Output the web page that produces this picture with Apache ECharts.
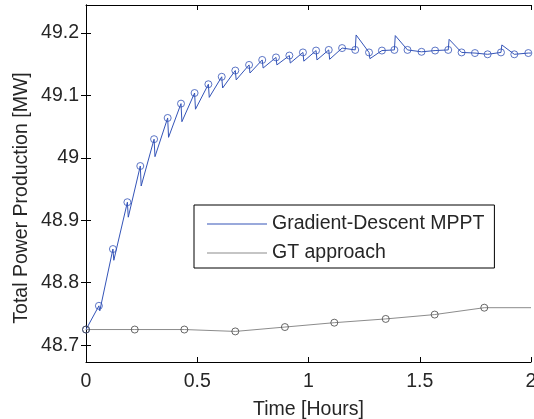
<!DOCTYPE html>
<html><head><meta charset="utf-8">
<script src="https://cdn.jsdelivr.net/npm/echarts@6/dist/echarts.min.js"></script>
<style>html,body{margin:0;padding:0;background:#fff}#c{width:534px;height:419px}</style>
</head><body><div id="c"></div>
<script>
// ---- data ----
const seriesNames = ['Gradient-Descent MPPT', 'GT approach'];
const xTicks = [0, 0.5, 1, 1.5, 2];
const yTicks = [48.7, 48.8, 48.9, 49, 49.1, 49.2];
const xTitle = 'Time [Hours]';
const yTitle = 'Total Power Production [MW]';

// Gradient-Descent MPPT: marked samples and value just after each marked sample
const blueTime = [0, 0.058, 0.121, 0.186, 0.244, 0.306, 0.367, 0.427, 0.488, 0.550, 0.610, 0.671, 0.733, 0.792, 0.854, 0.914, 0.975, 1.034, 1.091, 1.151, 1.210, 1.272, 1.330, 1.386, 1.445, 1.508, 1.569, 1.628, 1.688, 1.748, 1.805, 1.865, 1.925, 1.988];
const blueAtMark = [48.725, 48.763, 48.854, 48.929, 48.987, 49.030, 49.064, 49.087, 49.104, 49.118, 49.130, 49.140, 49.149, 49.157, 49.161, 49.164, 49.169, 49.172, 49.173, 49.176, 49.173, 49.169, 49.172, 49.173, 49.173, 49.170, 49.172, 49.173, 49.169, 49.168, 49.166, 49.169, 49.166, 49.168];
const blueAfterMark = [48.725, 48.755, 48.836, 48.905, 48.955, 49.002, 49.033, 49.058, 49.078, 49.097, 49.112, 49.125, 49.136, 49.144, 49.149, 49.152, 49.155, 49.157, 49.158, 49.176, 49.197, 49.159, 49.172, 49.196, 49.173, 49.170, 49.172, 49.190, 49.169, 49.168, 49.166, 49.181, 49.166, 49.168];
const blueJumpDt = 0.004;
const blueEnd = [2, 49.168];

// GT approach
const grayTime = [0, 0.219, 0.442, 0.671, 0.894, 1.116, 1.347, 1.567, 1.790];
const grayVal = [48.725, 48.725, 48.725, 48.722, 48.729, 48.736, 48.742, 48.749, 48.760];
const grayEnd = [2, 48.760];

// ---- build ----
const blueLine = [];
blueTime.forEach((t, i) => {
  blueLine.push([t, blueAtMark[i]]);
  if (blueAfterMark[i] !== blueAtMark[i]) blueLine.push([t + blueJumpDt, blueAfterMark[i]]);
});
blueLine.push(blueEnd);
const blueMarks = blueTime.map((t, i) => [t, blueAtMark[i]]);
const grayMarks = grayTime.map((t, i) => [t, grayVal[i]]);
const grayLine = grayMarks.concat([grayEnd]);

const FONT = 'Liberation Sans, Arial, sans-serif';
const FS = 19.5;
const TXT = '#262626';
const BLUE = '#3454b8';
const GRAY = '#8c8c8c';

const chart = echarts.init(document.getElementById('c'), null, {renderer: 'canvas'});
const axisCommon = {
  axisLine: {show: true, lineStyle: {color: '#000', width: 1}},
  splitLine: {show: false}
};
chart.setOption({
  animation: false,
  backgroundColor: '#fff',
  textStyle: {fontFamily: FONT},
  grid: {left: 86, right: 3, top: 5, bottom: 57, containLabel: false, outerBoundsMode: 'none'},
  xAxis: [
    Object.assign({
      type: 'value', min: xTicks[0], max: xTicks[xTicks.length - 1], interval: 0.5, position: 'bottom',
      axisTick: {show: true, inside: true, length: 5, lineStyle: {color: '#000'}},
      axisLabel: {show: true, margin: 10, fontSize: FS, color: TXT, fontFamily: FONT, formatter: v => String(+v.toFixed(2))},
      name: xTitle, nameLocation: 'middle', nameGap: 38,
      nameTextStyle: {fontSize: FS, color: TXT, fontFamily: FONT}
    }, axisCommon),
    Object.assign({
      type: 'value', min: xTicks[0], max: xTicks[xTicks.length - 1], interval: 0.5, position: 'top',
      axisTick: {show: true, inside: true, length: 5, lineStyle: {color: '#000'}},
      axisLabel: {show: false}
    }, axisCommon)
  ],
  yAxis: [
    Object.assign({
      type: 'value', min: 48.673, max: 49.245, position: 'left',
      axisTick: {show: true, inside: true, length: 5, customValues: yTicks, lineStyle: {color: '#000'}},
      axisLabel: {show: true, margin: 7, fontSize: FS, color: TXT, fontFamily: FONT, customValues: yTicks,
        formatter: v => String(+(+v).toFixed(2))}
    }, axisCommon),
    Object.assign({
      type: 'value', min: 48.673, max: 49.245, position: 'right',
      axisTick: {show: true, inside: true, length: 5, customValues: yTicks, lineStyle: {color: '#000'}},
      axisLabel: {show: false}
    }, axisCommon)
  ],
  legend: {
    orient: 'vertical', left: 194, top: 205,
    data: [{name: seriesNames[0], icon: 'rect'}, {name: seriesNames[1], icon: 'rect'}],
    itemWidth: 60, itemHeight: 1, itemGap: 9,
    padding: [9, 10, 5, 13],
    backgroundColor: '#fff', borderColor: '#000', borderWidth: 1, borderRadius: 0,
    selectedMode: false,
    textStyle: {fontSize: FS, color: TXT, fontFamily: FONT, lineHeight: 20}
  },
  graphic: [{
    type: 'text', x: 22, y: 198, rotation: Math.PI / 2,
    style: {text: yTitle, fontSize: FS, fontFamily: FONT, fill: TXT, align: 'center', verticalAlign: 'middle'}
  }],
  series: [
    {name: seriesNames[0], type: 'line', data: blueLine, symbol: 'none', xAxisIndex: 0, yAxisIndex: 0,
      lineStyle: {color: BLUE, width: 1}, itemStyle: {color: BLUE}, z: 3},
    {name: seriesNames[1], type: 'line', data: grayLine, symbol: 'none', xAxisIndex: 0, yAxisIndex: 0,
      lineStyle: {color: GRAY, width: 1}, itemStyle: {color: GRAY}, z: 2},
    {name: 'blueMarks', type: 'scatter', data: blueMarks, symbol: 'circle', symbolSize: 7,
      itemStyle: {color: 'rgba(0,0,0,0)', borderColor: BLUE, borderWidth: 1}, z: 4},
    {name: 'grayMarks', type: 'scatter', data: grayMarks, symbol: 'circle', symbolSize: 7,
      itemStyle: {color: 'rgba(0,0,0,0)', borderColor: '#444', borderWidth: 1}, z: 4}
  ]
});
</script>
</body></html>
